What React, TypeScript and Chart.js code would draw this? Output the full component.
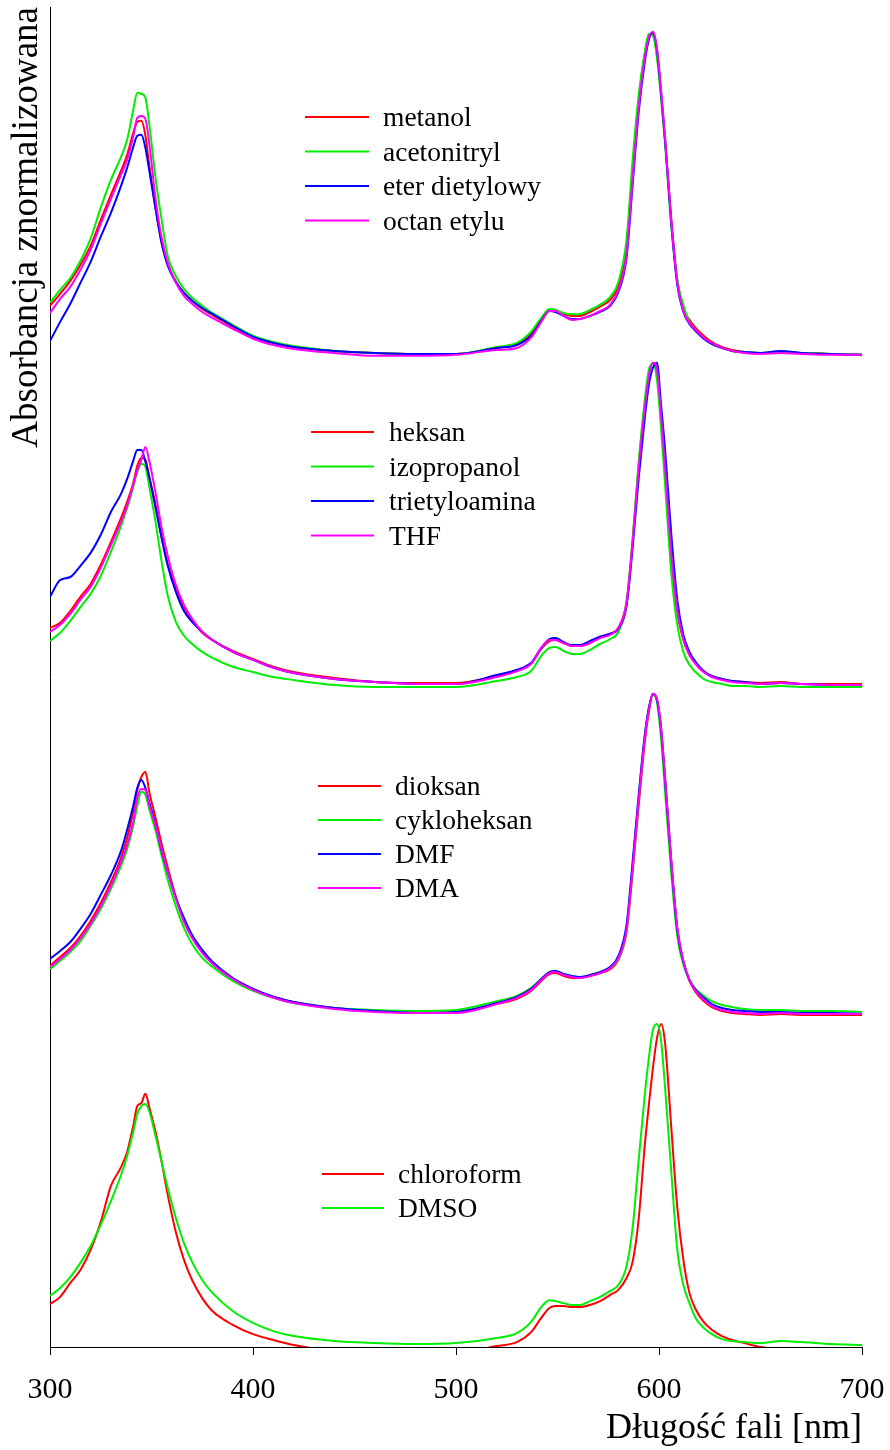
import React, { useEffect, useRef } from "react";
import { Chart, registerables } from "chart.js";

Chart.register(...registerables);

const FONT = "'Liberation Serif', 'Times New Roman', serif";

// wavelengths [nm]
const WAVELENGTHS = [
  300, 305, 310, 315, 320, 325, 330, 335, 338, 341,
  343, 345, 347, 349, 352, 355, 358, 362, 366, 370,
  375, 380, 390, 400, 410, 420, 440, 460, 480, 500,
  520, 530, 537, 542, 546, 549, 553, 557, 561, 566,
  571, 576, 580, 584, 587, 590, 593, 595, 597, 599,
  601, 603, 606, 609, 612, 615, 618, 622, 626, 631,
  636, 642, 650, 660, 670, 685, 700,
];

const X_TICKS = [300, 400, 500, 600, 700];

// vertical shift of each group of spectra
const GROUP_OFFSETS = [3, 2, 1, 0];

// normalized absorbance, group 1
const METANOL = [0.155,0.191,0.230,0.279,0.336,0.415,0.491,0.564,0.612,0.679, 0.712,0.715,0.670,0.576,0.452,0.345,0.282,0.227,0.194,0.170, 0.145,0.127,0.091,0.058,0.042,0.030,0.018,0.012,0.009,0.009, 0.027,0.039,0.070,0.112,0.142,0.139,0.130,0.124,0.124,0.136, 0.152,0.173,0.215,0.330,0.567,0.779,0.918,0.976,0.979,0.915, 0.794,0.652,0.421,0.233,0.148,0.112,0.088,0.064,0.045,0.030, 0.021,0.015,0.012,0.015,0.012,0.009,0.006];
const ACETONITRYL = [0.164,0.203,0.239,0.291,0.358,0.452,0.536,0.606,0.658,0.748, 0.800,0.797,0.785,0.700,0.542,0.415,0.306,0.245,0.206,0.179, 0.155,0.133,0.097,0.064,0.045,0.033,0.018,0.012,0.009,0.009, 0.030,0.042,0.076,0.118,0.145,0.142,0.133,0.129,0.130,0.142, 0.158,0.182,0.227,0.355,0.597,0.794,0.924,0.979,0.973,0.906, 0.785,0.645,0.400,0.233,0.158,0.106,0.079,0.058,0.039,0.027, 0.018,0.015,0.012,0.015,0.012,0.009,0.006];
const ETER_DIETYLOWY = [0.048,0.106,0.161,0.224,0.288,0.364,0.436,0.518,0.573,0.636, 0.670,0.673,0.633,0.561,0.448,0.345,0.276,0.227,0.194,0.170, 0.148,0.130,0.094,0.061,0.042,0.030,0.018,0.012,0.009,0.009, 0.027,0.036,0.064,0.109,0.139,0.136,0.124,0.115,0.115,0.124, 0.136,0.155,0.197,0.300,0.521,0.742,0.894,0.961,0.982,0.930, 0.803,0.658,0.409,0.218,0.136,0.100,0.079,0.055,0.039,0.027, 0.018,0.015,0.012,0.018,0.012,0.009,0.006];
const OCTAN_ETYLU = [0.133,0.176,0.212,0.264,0.324,0.403,0.479,0.552,0.597,0.667, 0.724,0.730,0.721,0.642,0.479,0.361,0.285,0.224,0.185,0.161, 0.136,0.118,0.085,0.055,0.036,0.024,0.012,0.003,0.003,0.006, 0.021,0.027,0.058,0.106,0.139,0.139,0.124,0.112,0.115,0.124, 0.139,0.158,0.203,0.309,0.536,0.755,0.906,0.967,0.985,0.936, 0.809,0.664,0.415,0.224,0.139,0.103,0.082,0.058,0.042,0.027, 0.018,0.012,0.009,0.012,0.009,0.006,0.006];

// group 2
const HEKSAN = [0.179,0.194,0.230,0.273,0.312,0.370,0.439,0.512,0.561,0.618, 0.670,0.694,0.688,0.633,0.552,0.452,0.373,0.300,0.242,0.203, 0.164,0.142,0.109,0.085,0.061,0.045,0.027,0.015,0.012,0.012, 0.033,0.048,0.070,0.115,0.139,0.142,0.133,0.124,0.124,0.133, 0.152,0.161,0.179,0.258,0.445,0.673,0.855,0.945,0.982,0.955, 0.815,0.652,0.397,0.227,0.142,0.097,0.070,0.045,0.033,0.024, 0.018,0.015,0.012,0.015,0.009,0.009,0.009];
const IZOPROPANOL = [0.139,0.164,0.200,0.242,0.282,0.336,0.409,0.488,0.542,0.606, 0.652,0.676,0.667,0.603,0.500,0.379,0.276,0.197,0.155,0.130, 0.106,0.088,0.061,0.045,0.030,0.021,0.006,0.000,0.000,0.000, 0.018,0.030,0.048,0.094,0.118,0.121,0.109,0.100,0.100,0.112, 0.130,0.145,0.167,0.252,0.445,0.682,0.870,0.961,0.979,0.930, 0.785,0.612,0.348,0.188,0.106,0.067,0.045,0.024,0.015,0.009, 0.003,0.003,0.000,0.003,0.000,0.000,0.000];
const TRIETYLOAMINA = [0.273,0.324,0.333,0.367,0.406,0.461,0.530,0.585,0.630,0.685, 0.718,0.718,0.682,0.633,0.542,0.452,0.367,0.288,0.230,0.197, 0.167,0.142,0.106,0.082,0.058,0.042,0.024,0.015,0.009,0.009, 0.036,0.052,0.073,0.118,0.145,0.148,0.136,0.127,0.127,0.139, 0.152,0.161,0.176,0.245,0.421,0.633,0.815,0.915,0.967,0.982, 0.855,0.718,0.467,0.264,0.158,0.106,0.076,0.048,0.033,0.024, 0.018,0.015,0.009,0.012,0.009,0.006,0.006];
const THF = [0.167,0.188,0.221,0.264,0.303,0.361,0.430,0.500,0.548,0.612, 0.655,0.688,0.727,0.682,0.588,0.482,0.397,0.309,0.248,0.206, 0.167,0.142,0.106,0.082,0.058,0.042,0.024,0.015,0.009,0.009, 0.030,0.048,0.070,0.118,0.142,0.142,0.133,0.124,0.124,0.133, 0.148,0.158,0.179,0.252,0.436,0.664,0.845,0.942,0.982,0.961, 0.824,0.664,0.409,0.233,0.145,0.097,0.070,0.045,0.030,0.021, 0.015,0.012,0.009,0.012,0.009,0.006,0.006];

// group 3
const DIOKSAN = [0.155,0.182,0.209,0.245,0.291,0.345,0.409,0.482,0.542,0.624, 0.688,0.727,0.742,0.679,0.603,0.524,0.452,0.364,0.291,0.242, 0.197,0.164,0.118,0.085,0.061,0.045,0.027,0.018,0.012,0.015, 0.039,0.055,0.079,0.109,0.130,0.133,0.124,0.118,0.118,0.124, 0.133,0.145,0.173,0.258,0.439,0.642,0.833,0.924,0.976,0.961, 0.876,0.724,0.476,0.270,0.167,0.109,0.076,0.048,0.030,0.018, 0.012,0.009,0.006,0.009,0.006,0.006,0.006];
const CYKLOHEKSAN = [0.145,0.170,0.197,0.230,0.276,0.327,0.388,0.458,0.509,0.579, 0.639,0.682,0.673,0.627,0.564,0.488,0.415,0.336,0.270,0.221, 0.179,0.152,0.109,0.079,0.058,0.042,0.027,0.021,0.018,0.021, 0.048,0.064,0.088,0.115,0.136,0.139,0.130,0.124,0.121,0.127, 0.136,0.148,0.176,0.264,0.458,0.664,0.852,0.936,0.979,0.952, 0.845,0.682,0.439,0.245,0.158,0.112,0.085,0.064,0.048,0.036, 0.030,0.024,0.021,0.021,0.018,0.018,0.015];
const DMF = [0.176,0.200,0.227,0.267,0.312,0.370,0.430,0.503,0.567,0.639, 0.694,0.718,0.694,0.648,0.582,0.503,0.439,0.361,0.300,0.248, 0.203,0.167,0.118,0.085,0.061,0.045,0.027,0.018,0.012,0.015, 0.042,0.061,0.085,0.115,0.136,0.139,0.130,0.124,0.121,0.127, 0.136,0.152,0.185,0.279,0.470,0.673,0.855,0.936,0.979,0.961, 0.870,0.715,0.470,0.264,0.167,0.112,0.082,0.058,0.039,0.027, 0.021,0.018,0.015,0.015,0.012,0.012,0.009];
const DMA = [0.152,0.176,0.203,0.239,0.282,0.336,0.397,0.470,0.521,0.591, 0.664,0.691,0.688,0.639,0.579,0.506,0.439,0.358,0.288,0.239, 0.194,0.161,0.115,0.082,0.058,0.042,0.024,0.015,0.012,0.012, 0.039,0.058,0.082,0.112,0.133,0.136,0.127,0.121,0.118,0.124, 0.133,0.148,0.179,0.264,0.452,0.658,0.845,0.930,0.979,0.964, 0.876,0.721,0.476,0.270,0.170,0.112,0.079,0.052,0.033,0.021, 0.015,0.012,0.009,0.012,0.009,0.009,0.009];

// group 4
const CHLOROFORM = [0.130,0.152,0.194,0.233,0.294,0.379,0.488,0.545,0.591,0.670, 0.730,0.739,0.767,0.724,0.652,0.561,0.461,0.348,0.264,0.203, 0.148,0.109,0.067,0.039,0.021,0.006,-0.012,-0.018,-0.021,-0.018, 0.003,0.015,0.045,0.088,0.118,0.124,0.124,0.121,0.121,0.127, 0.139,0.158,0.173,0.209,0.258,0.388,0.612,0.733,0.845,0.936, 0.979,0.921,0.670,0.424,0.264,0.164,0.115,0.076,0.052,0.033, 0.021,0.012,0.000,-0.006,-0.009,-0.009,-0.012];
const DMSO = [0.155,0.179,0.212,0.255,0.306,0.370,0.442,0.521,0.579,0.652, 0.706,0.730,0.736,0.712,0.639,0.561,0.482,0.391,0.315,0.258, 0.203,0.164,0.109,0.073,0.048,0.033,0.018,0.012,0.009,0.012, 0.027,0.042,0.076,0.121,0.142,0.139,0.133,0.127,0.127,0.139, 0.152,0.170,0.188,0.245,0.361,0.567,0.764,0.876,0.961,0.979, 0.930,0.785,0.536,0.294,0.188,0.133,0.088,0.058,0.039,0.024, 0.018,0.015,0.012,0.018,0.015,0.009,0.006];

const GROUP_LABELS = [
  ["metanol", "acetonitryl", "eter dietylowy", "octan etylu"],
  ["heksan", "izopropanol", "trietyloamina", "THF"],
  ["dioksan", "cykloheksan", "DMF", "DMA"],
  ["chloroform", "DMSO"],
];
const GROUP_VALUES = [
  [METANOL, ACETONITRYL, ETER_DIETYLOWY, OCTAN_ETYLU],
  [HEKSAN, IZOPROPANOL, TRIETYLOAMINA, THF],
  [DIOKSAN, CYKLOHEKSAN, DMF, DMA],
  [CHLOROFORM, DMSO],
];

const COLORS = ["#ff0000", "#00ee00", "#0000ff", "#ff00ff"];

// legend placement (pixels) for each group
const LEGEND_LAYOUT = [
  { x0: 305, x1: 369, tx: 383, y: 117, dy: 34.5 },
  { x0: 311, x1: 374, tx: 389, y: 432, dy: 34.5 },
  { x0: 318, x1: 381, tx: 395, y: 786, dy: 34 },
  { x0: 322, x1: 384, tx: 398, y: 1174, dy: 34 },
];

const groupLegendPlugin = {
  id: "groupLegend",
  afterDatasetsDraw(chart: any) {
    const ctx = chart.ctx;
    ctx.save();
    let k = 0;
    GROUP_LABELS.forEach((labels, g) => {
      const L = LEGEND_LAYOUT[g];
      labels.forEach((label, i) => {
        const ds = chart.data.datasets[k++];
        const y = L.y + i * L.dy;
        ctx.strokeStyle = ds.borderColor;
        ctx.lineWidth = 2;
        ctx.beginPath();
        ctx.moveTo(L.x0, y);
        ctx.lineTo(L.x1, y);
        ctx.stroke();
        ctx.fillStyle = "#000";
        ctx.font = `27.5px ${FONT}`;
        ctx.textAlign = "left";
        ctx.textBaseline = "middle";
        ctx.fillText(label, L.tx, y + 2);
      });
    });
    ctx.restore();
  },
};

export default function App() {
  const canvasRef = useRef<HTMLCanvasElement | null>(null);

  useEffect(() => {
    document.body.style.margin = "0";
    const canvas = canvasRef.current;
    if (!canvas) return;

    const datasets: any[] = [];
    let idx = 0;
    GROUP_VALUES.forEach((series, g) => {
      series.forEach((vals, i) => {
        datasets.push({
          label: GROUP_LABELS[g][i],
          data: WAVELENGTHS.map((w, j) => ({ x: w, y: vals[j] + GROUP_OFFSETS[g] })),
          borderColor: COLORS[i],
          backgroundColor: COLORS[i],
          borderWidth: 2,
          pointRadius: 0,
          fill: false,
          cubicInterpolationMode: "monotone",
          order: 100 - idx,
        });
        idx++;
      });
    });

    const chart = new Chart(canvas, {
      type: "line",
      data: { datasets },
      options: {
        animation: false,
        responsive: false,
        events: [],
        layout: { padding: { top: 7, right: 28, left: 0, bottom: 0 } },
        plugins: {
          legend: { display: false },
          tooltip: { enabled: false },
        },
        scales: {
          x: {
            type: "linear",
            min: 300,
            max: 700,
            afterBuildTicks: (axis: any) => {
              axis.ticks = X_TICKS.map((v) => ({ value: v }));
            },
            ticks: {
              color: "#000",
              font: { family: FONT, size: 30 },
              padding: 17,
              maxRotation: 0,
              autoSkip: false,
            },
            grid: {
              display: true,
              drawOnChartArea: false,
              drawTicks: true,
              tickLength: 8,
              color: "#000",
              lineWidth: 1,
            },
            border: { display: true, color: "#000", width: 1 },
            title: {
              display: true,
              text: "Długość fali [nm]",
              align: "end",
              color: "#000",
              font: { family: FONT, size: 36 },
              padding: 0,
            },
            afterFit: (axis: any) => {
              axis.height = 103;
              axis.paddingLeft = 0;
              axis.paddingRight = 0;
            },
          },
          y: {
            type: "linear",
            min: 0,
            max: 4.06,
            ticks: { display: false },
            grid: { display: false },
            border: { display: true, color: "#000", width: 1 },
            title: {
              display: true,
              text: "Absorbancja znormalizowana",
              align: "end",
              color: "#000",
              font: { family: FONT, size: 37 },
              padding: { top: 5, bottom: 0 },
            },
            afterFit: (axis: any) => {
              axis.width = 50;
              axis.paddingTop = 0;
              axis.paddingBottom = 0;
            },
          },
        },
      } as any,
      plugins: [groupLegendPlugin],
    });

    return () => chart.destroy();
  }, []);

  return (
    <div style={{ width: 890, height: 1450, position: "relative", background: "#fff" }}>
      <canvas ref={canvasRef} width={890} height={1450} style={{ display: "block" }} />
    </div>
  );
}
